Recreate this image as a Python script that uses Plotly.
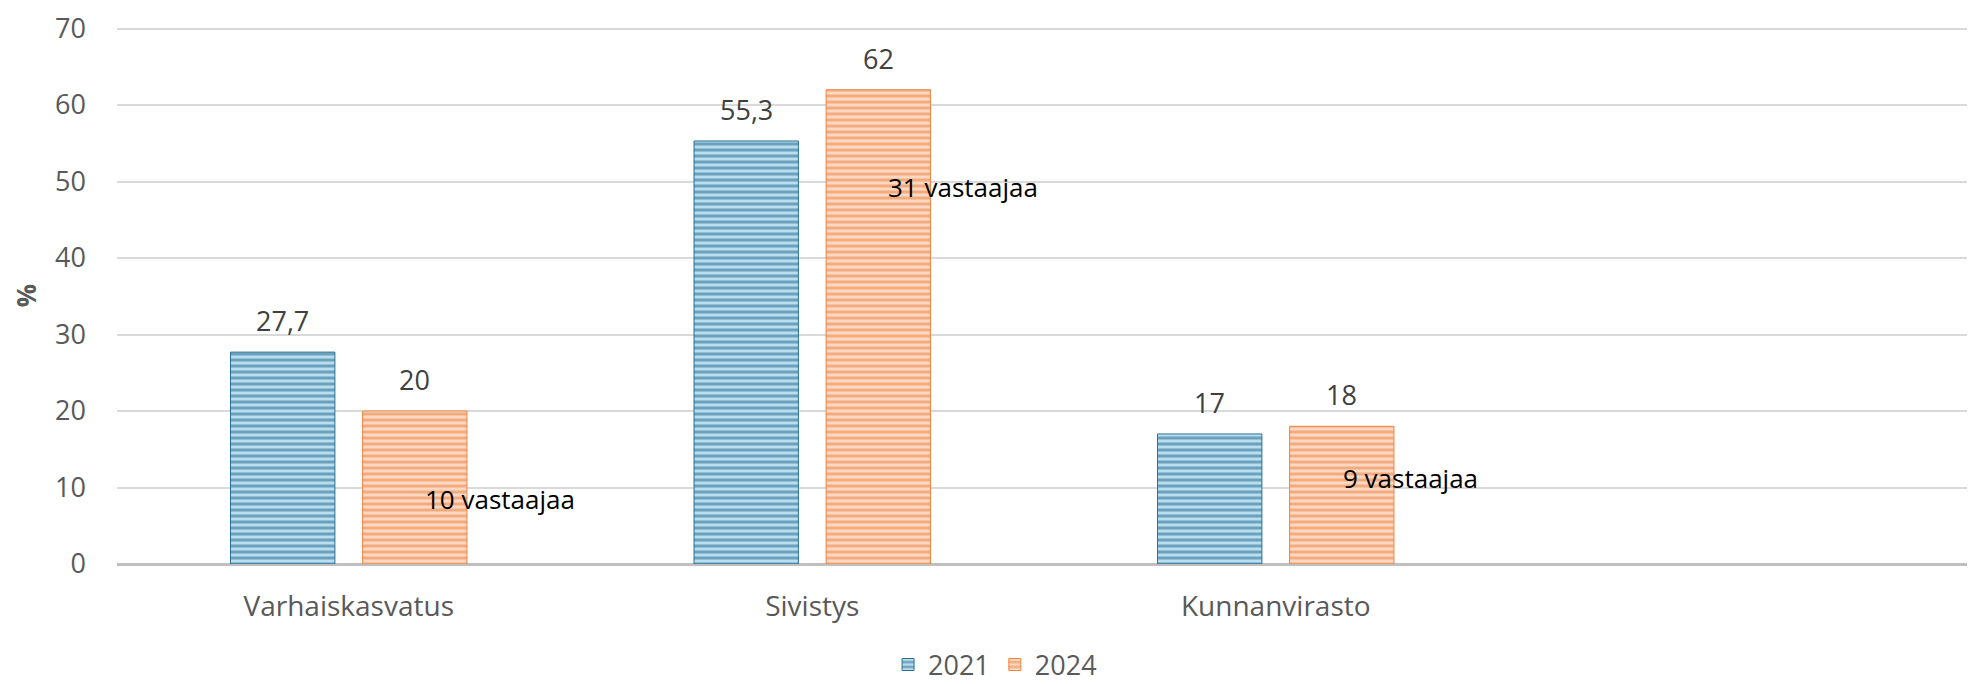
import plotly.graph_objects as go

categories = ["Varhaiskasvatus", "Sivistys", "Kunnanvirasto", " "]
values_2021 = [27.7, 55.3, 17, None]
values_2024 = [20, 62, 18, None]
labels_2021 = ["27,7", "55,3", "17", ""]
labels_2024 = ["20", "62", "18", ""]
respondents = ["10 vastaajaa", "31 vastaajaa", "9 vastaajaa"]
respondent_y = [8.5, 49.3, 11.3]
respondent_dx = [0.16, 0.16, 0.14]
y_ticks = [0, 10, 20, 30, 40, 50, 60, 70]

FONT = "Open Sans"
idx = list(range(len(categories)))

fig = go.Figure()
fig.add_trace(go.Bar(
    name="2021", x=idx, y=values_2021,
    marker=dict(color="#b8def0", line=dict(color="#2a6f93", width=1),
                pattern=dict(shape="-", fgcolor="#1f6388", bgcolor="#b8def0",
                             size=6, solidity=0.5)),
))
fig.add_trace(go.Bar(
    name="2024", x=idx, y=values_2024,
    marker=dict(color="#fbd8c4", line=dict(color="#ee8444", width=1),
                pattern=dict(shape="-", fgcolor="#ed7d31", bgcolor="#fbd8c4",
                             size=6, solidity=0.5)),
))

annotations = []
for i, (v, lab) in enumerate(zip(values_2021, labels_2021)):
    if v is not None:
        annotations.append(dict(x=i - 0.1425, y=v, text=lab, showarrow=False,
                                yanchor="bottom", yshift=11,
                                font=dict(family=FONT, size=27, color="#404040")))
for i, (v, lab) in enumerate(zip(values_2024, labels_2024)):
    if v is not None:
        annotations.append(dict(x=i + 0.1425, y=v, text=lab, showarrow=False,
                                yanchor="bottom", yshift=11,
                                font=dict(family=FONT, size=27, color="#404040")))
for i, (t, yy, dx) in enumerate(zip(respondents, respondent_y, respondent_dx)):
    annotations.append(dict(x=i + dx, y=yy, text=t, showarrow=False,
                            xanchor="left", yanchor="middle",
                            font=dict(family=FONT, size=26, color="#000000")))

fig.update_layout(
    width=1967, height=676,
    margin=dict(l=109, r=4, t=19, b=120, autoexpand=False),
    paper_bgcolor="white", plot_bgcolor="white",
    barmode="group", bargap=0.43, bargroupgap=0.21,
    font=dict(family=FONT, color="#595959"),
    showlegend=True,
    legend=dict(orientation="h", x=0.4736, xanchor="center", y=-0.188, yanchor="middle",
                font=dict(family=FONT, size=27, color="#595959"),
                itemwidth=30),
    annotations=annotations,
    xaxis=dict(tickmode="array", tickvals=idx, ticktext=categories,
               range=[-0.5, 3.5], showgrid=False, zeroline=False,
               showline=False, ticks="", ticklabelstandoff=23,
               tickfont=dict(family=FONT, size=28, color="#595959")),
    yaxis=dict(range=[0, 70.2], tickvals=y_ticks, showgrid=True,
               gridcolor="#d9d9d9", gridwidth=2, zeroline=True,
               zerolinecolor="#bfbfbf", zerolinewidth=3, showline=False,
               ticks="", ticklabelstandoff=30, ticklabeloverflow="allow",
               tickfont=dict(family=FONT, size=27, color="#595959"),
               title=dict(text="<b>%</b>", standoff=19,
                          font=dict(family=FONT, size=26, color="#595959"))),
)

fig.write_html("out.html")
